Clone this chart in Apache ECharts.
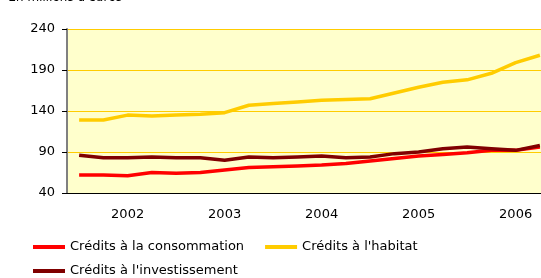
<!DOCTYPE html>
<html>
<head>
<meta charset="utf-8">
<script src="https://cdn.jsdelivr.net/npm/echarts@6/dist/echarts.min.js"></script>
<style>
html,body{margin:0;padding:0;background:#fff;overflow:hidden;}
/* plot runs past the right edge like the source image, so the canvas is wider than the window */
#chart{width:552px;height:278px;}
</style>
</head>
<body>
<div id="chart"></div>
<script>
// trimestres 2002 -> 2006
var quarters = ['2002T1','2002T2','2002T3','2002T4','2003T1','2003T2','2003T3','2003T4',
    '2004T1','2004T2','2004T3','2004T4','2005T1','2005T2','2005T3','2005T4',
    '2006T1','2006T2','2006T3','2006T4'];
var yTicks = [40, 90, 140, 190, 240];
var consommation = [62, 62, 61, 65, 64, 65, 68, 71, 72, 73, 74, 76, 79, 82, 85, 87, 89, 92, 92, 96];
var habitat = [129, 129, 135, 134, 135, 136, 138, 147, 149, 151, 153, 154, 155, 162, 169, 175, 178, 186, 199, 208];
var investissement = [86, 83, 83, 84, 83, 83, 80, 84, 83, 84, 85, 83, 84, 88, 90, 94, 96, 94, 92, 98];

var FONT = 'DejaVu Sans';
var myChart = echarts.init(document.getElementById('chart'));

function serie(name, data, color){
    return {
        name: name,
        type: 'line',
        data: data,
        showSymbol: false,
        animation: false,
        lineStyle: {color: color, width: 3.5},
        itemStyle: {color: color}
    };
}

var legendText = {fontSize: 13, color: '#000', fontFamily: FONT, lineHeight: 16};

myChart.setOption({
    textStyle: {fontFamily: FONT},
    title: {
        text: "En millions d'euros",
        left: 9,
        top: -8,
        padding: 0,
        textStyle: {fontSize: 12, fontStyle: 'italic', fontWeight: 'normal', color: '#000', fontFamily: FONT}
    },
    grid: {left: 67, top: 29, right: 0, bottom: 85, backgroundColor: '#FFFFCC', show: true, borderWidth: 0},
    legend: [{
        left: 33, top: 239, padding: 0, itemWidth: 32, itemHeight: 4, itemGap: 21, icon: 'rect',
        textStyle: legendText,
        data: ['Crédits à la consommation', "Crédits à l'habitat"]
    }, {
        left: 33, top: 263, padding: 0, itemWidth: 32, itemHeight: 4, icon: 'rect',
        textStyle: legendText,
        data: ["Crédits à l'investissement"]
    }],
    xAxis: {
        type: 'category',
        data: quarters,
        boundaryGap: true,
        axisLine: {lineStyle: {color: '#000', width: 1}},
        axisTick: {
            length: 5,
            lineStyle: {color: '#000'},
            interval: function (i) { return i % 4 === 0; }
        },
        axisLabel: {
            fontSize: 13, color: '#000', margin: 15, fontFamily: FONT,
            interval: function (i) { return i % 4 === 2; },
            formatter: function (v) { return v.slice(0, 4); }
        },
        splitLine: {show: false}
    },
    yAxis: {
        type: 'value',
        min: yTicks[0],
        max: yTicks[yTicks.length - 1],
        interval: 50,
        axisLine: {show: true, lineStyle: {color: '#808080', width: 2}},
        axisTick: {show: true, length: 5, lineStyle: {color: '#000'}},
        axisLabel: {fontSize: 13, color: '#000', margin: 12, fontFamily: FONT},
        splitLine: {lineStyle: {color: '#FFCC00', width: 1}}
    },
    series: [
        serie('Crédits à la consommation', consommation, '#FF0000'),
        serie("Crédits à l'habitat", habitat, '#FFCC00'),
        serie("Crédits à l'investissement", investissement, '#800000')
    ]
});
</script>
</body>
</html>
